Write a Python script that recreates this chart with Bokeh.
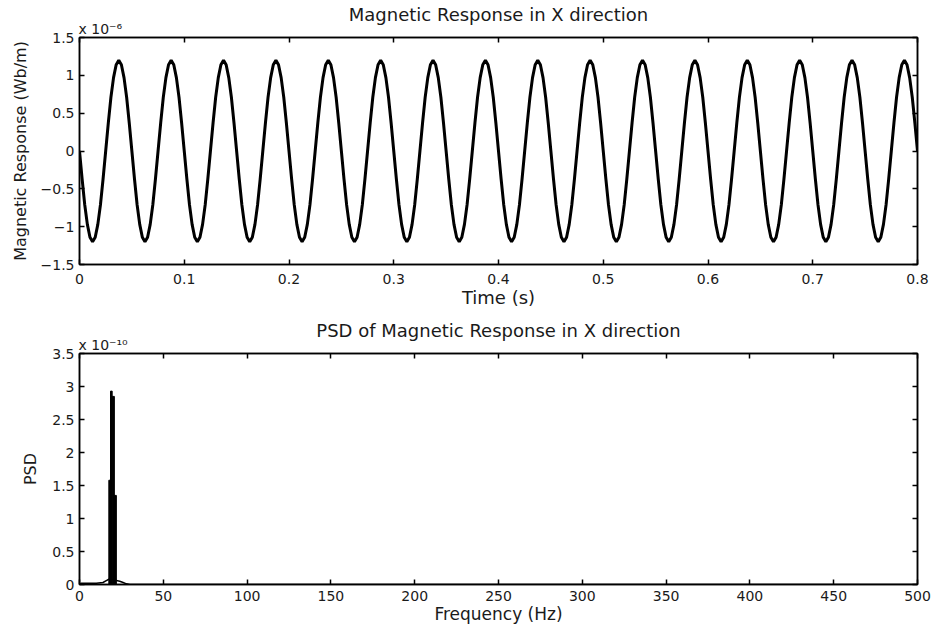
import numpy as np
from bokeh.plotting import figure
from bokeh.layouts import column
from bokeh.models import LinearAxis, FixedTicker, CustomJSTickFormatter, Range1d, Title
from bokeh.embed import file_html
from bokeh.resources import INLINE

FONT = "DejaVu Sans"

# ---------------- data: top panel (values in units of 1e-6 Wb/m) ----------------
time_s = np.linspace(0.0, 0.8, 321)
response_e6 = [
    0.0, -0.37, -0.71, -0.97, -1.14, -1.2, -1.14, -0.97, -0.71, -0.37, 0.0, 0.37, 0.71, 0.97, 1.14, 1.2, 1.14, 0.97, 0.71, 0.37,
    0.0, -0.37, -0.71, -0.97, -1.14, -1.2, -1.14, -0.97, -0.71, -0.37, 0.0, 0.37, 0.71, 0.97, 1.14, 1.2, 1.14, 0.97, 0.71, 0.37,
    0.0, -0.37, -0.71, -0.97, -1.14, -1.2, -1.14, -0.97, -0.71, -0.37, 0.0, 0.37, 0.71, 0.97, 1.14, 1.2, 1.14, 0.97, 0.71, 0.37,
    0.0, -0.37, -0.71, -0.97, -1.14, -1.2, -1.14, -0.97, -0.71, -0.37, 0.0, 0.37, 0.71, 0.97, 1.14, 1.2, 1.14, 0.97, 0.71, 0.37,
    0.0, -0.37, -0.71, -0.97, -1.14, -1.2, -1.14, -0.97, -0.71, -0.37, 0.0, 0.37, 0.71, 0.97, 1.14, 1.2, 1.14, 0.97, 0.71, 0.37,
    0.0, -0.37, -0.71, -0.97, -1.14, -1.2, -1.14, -0.97, -0.71, -0.37, 0.0, 0.37, 0.71, 0.97, 1.14, 1.2, 1.14, 0.97, 0.71, 0.37,
    0.0, -0.37, -0.71, -0.97, -1.14, -1.2, -1.14, -0.97, -0.71, -0.37, 0.0, 0.37, 0.71, 0.97, 1.14, 1.2, 1.14, 0.97, 0.71, 0.37,
    0.0, -0.37, -0.71, -0.97, -1.14, -1.2, -1.14, -0.97, -0.71, -0.37, 0.0, 0.37, 0.71, 0.97, 1.14, 1.2, 1.14, 0.97, 0.71, 0.37,
    0.0, -0.37, -0.71, -0.97, -1.14, -1.2, -1.14, -0.97, -0.71, -0.37, 0.0, 0.37, 0.71, 0.97, 1.14, 1.2, 1.14, 0.97, 0.71, 0.37,
    0.0, -0.37, -0.71, -0.97, -1.14, -1.2, -1.14, -0.97, -0.71, -0.37, 0.0, 0.37, 0.71, 0.97, 1.14, 1.2, 1.14, 0.97, 0.71, 0.37,
    0.0, -0.37, -0.71, -0.97, -1.14, -1.2, -1.14, -0.97, -0.71, -0.37, 0.0, 0.37, 0.71, 0.97, 1.14, 1.2, 1.14, 0.97, 0.71, 0.37,
    0.0, -0.37, -0.71, -0.97, -1.14, -1.2, -1.14, -0.97, -0.71, -0.37, 0.0, 0.37, 0.71, 0.97, 1.14, 1.2, 1.14, 0.97, 0.71, 0.37,
    0.0, -0.37, -0.71, -0.97, -1.14, -1.2, -1.14, -0.97, -0.71, -0.37, 0.0, 0.37, 0.71, 0.97, 1.14, 1.2, 1.14, 0.97, 0.71, 0.37,
    0.0, -0.37, -0.71, -0.97, -1.14, -1.2, -1.14, -0.97, -0.71, -0.37, 0.0, 0.37, 0.71, 0.97, 1.14, 1.2, 1.14, 0.97, 0.71, 0.37,
    0.0, -0.37, -0.71, -0.97, -1.14, -1.2, -1.14, -0.97, -0.71, -0.37, 0.0, 0.37, 0.71, 0.97, 1.14, 1.2, 1.14, 0.97, 0.71, 0.37,
    0.0, -0.37, -0.71, -0.97, -1.14, -1.2, -1.14, -0.97, -0.71, -0.37, 0.0, 0.37, 0.71, 0.97, 1.14, 1.2, 1.14, 0.97, 0.71, 0.37,
    0.0,
]
time_ticks = [0, 0.1, 0.2, 0.3, 0.4, 0.5, 0.6, 0.7, 0.8]
resp_ticks = [-1.5, -1, -0.5, 0, 0.5, 1, 1.5]

# ---------------- data: bottom panel (values in units of 1e-10) ----------------
psd_bin_left = [17.5, 18.5, 19.5, 20.8]
psd_bin_right = [18.5, 19.5, 20.8, 22.0]
psd_bin_value = [1.58, 2.93, 2.85, 1.35]
psd_floor_freq = [0, 1, 5, 10, 14, 16, 17.5, 22, 24, 26, 28, 30, 500]
psd_floor_value = [0.0, 0.02, 0.02, 0.02, 0.03, 0.06, 0.08, 0.06, 0.05, 0.03, 0.01, 0.0, 0.0]
freq_ticks = [0, 50, 100, 150, 200, 250, 300, 350, 400, 450, 500]
psd_ticks = [0, 0.5, 1, 1.5, 2, 2.5, 3, 3.5]

TXT = "#1a1a1a"


def make_fig(title, xr, yr, xticks, yticks, xlabel, ylabel, height, top, bottom,
             ylabel_standoff, xtick_standoff, xlabel_size, exp_text):
    p = figure(width=933, height=height, x_range=Range1d(*xr), y_range=Range1d(*yr),
               output_backend="svg", toolbar_location=None,
               min_border_left=79, min_border_right=16,
               min_border_top=top, min_border_bottom=bottom)
    p.grid.visible = False
    p.background_fill_color = "white"
    p.border_fill_color = "white"
    p.outline_line_color = "black"
    p.outline_line_width = 1.5

    bx = p.xaxis[0]
    ly = p.yaxis[0]

    fmt = CustomJSTickFormatter(code="var v = Math.round(tick*1000)/1000; return String(v).replace('-', '\u2212');")
    blank = CustomJSTickFormatter(code="return '';")

    bx.ticker = FixedTicker(ticks=xticks)
    ly.ticker = FixedTicker(ticks=yticks)
    bx.formatter = fmt
    ly.formatter = fmt
    bx.axis_label = xlabel
    ly.axis_label = ylabel
    bx.axis_label_text_font_size = xlabel_size
    ly.axis_label_text_font_size = "16px"
    bx.axis_label_standoff = 0
    ly.axis_label_standoff = ylabel_standoff
    bx.major_label_text_font_size = "14px"
    ly.major_label_text_font_size = "14px"
    bx.major_label_standoff = xtick_standoff
    ly.major_label_standoff = 5

    top_ax = LinearAxis(ticker=FixedTicker(ticks=xticks), formatter=blank,
                        major_label_standoff=0)
    right_ax = LinearAxis(ticker=FixedTicker(ticks=yticks), formatter=blank,
                          major_label_standoff=0)
    p.add_layout(top_ax, "above")
    p.add_layout(right_ax, "right")

    for ax in [bx, ly, top_ax, right_ax]:
        ax.axis_line_color = "black"
        ax.axis_line_width = 1.5
        ax.major_tick_in = 5
        ax.major_tick_out = 0
        ax.major_tick_line_width = 1.5
        ax.minor_tick_in = 0
        ax.minor_tick_out = 0
        ax.major_label_text_font = FONT
        ax.major_label_text_color = TXT
        ax.axis_label_text_font = FONT
        ax.axis_label_text_font_style = "normal"
        ax.axis_label_text_color = TXT

    exp_title = Title(text=exp_text, align="left", text_font=FONT, text_font_size="14px",
                      text_font_style="normal", text_color=TXT, standoff=1, offset=-1)
    p.add_layout(exp_title, "above")
    main_title = Title(text=title, align="center", text_font=FONT, text_font_size="18px",
                       text_font_style="normal", text_color=TXT, standoff=-12)
    p.add_layout(main_title, "above")
    return p


p1 = make_fig("Magnetic Response in X direction", (0, 0.8), (-1.5, 1.5), time_ticks, resp_ticks,
              "Time (s)", "Magnetic Response (Wb/m)", 310, 37, 42, 8, 9, "18px", "x 10\u207b\u2076")
p1.line(time_s, response_e6, line_color="black", line_width=3)

p2 = make_fig("PSD of Magnetic Response in X direction", (0, 500), (0, 3.5), freq_ticks, psd_ticks,
              "Frequency (Hz)", "PSD", 323, 43, 49, 9, 6, "17px", "x 10\u207b\u00b9\u2070")
p2.quad(left=psd_bin_left, right=psd_bin_right, top=psd_bin_value, bottom=0,
        fill_color="black", line_color="black", line_width=1)
p2.line(psd_floor_freq, psd_floor_value, line_color="black", line_width=1.5)

layout = column(p1, p2, spacing=0)
open("out.html", "w").write(file_html(layout, INLINE))
